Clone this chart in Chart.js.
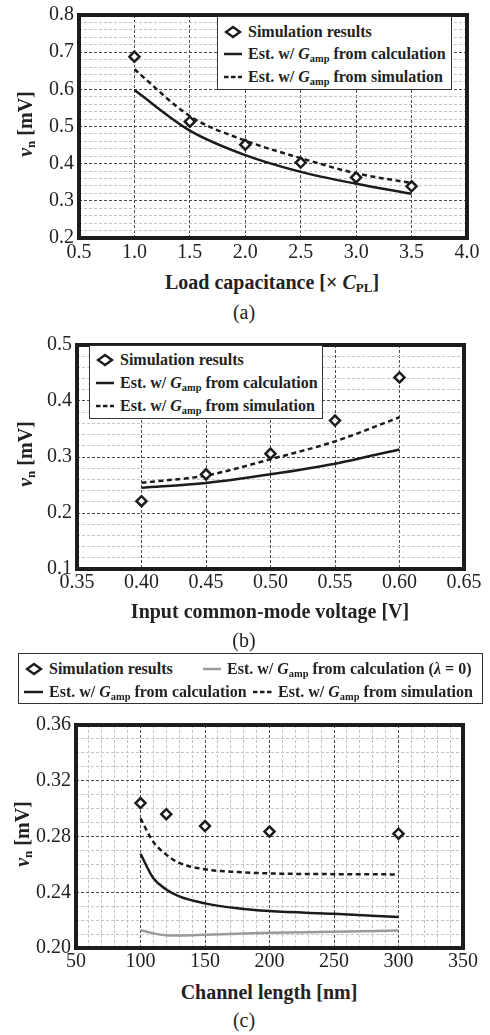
<!DOCTYPE html>
<html lang="en">
<head>
<meta charset="UTF-8">
<title>Output noise voltage</title>
<script src="https://cdn.jsdelivr.net/npm/chart.js"></script>
<style>
  body { margin: 0; width: 490px; height: 1035px; background: #fff; position: relative; overflow: hidden;
         font-family: "Liberation Serif", "Times New Roman", serif; color: #222; }
  canvas { position: absolute; left: 0; }
  .ytitle { position: absolute; font-weight: bold; font-size: 20px; white-space: nowrap;
            transform: translate(-50%, -50%) rotate(-90deg); }
  .xtitle { position: absolute; font-weight: bold; font-size: 20px; white-space: nowrap;
            transform: translate(-50%, -50%); }
  .caption { position: absolute; font-size: 20px; transform: translate(-50%, -50%); }
  .legend { position: absolute; background: #fff; border: 1.5px solid #333; box-sizing: border-box; }
  .item { position: absolute; display: flex; align-items: center; font-weight: bold; font-size: 16px;
          white-space: nowrap; transform: translateY(-50%); }
  .item svg { margin-right: 6px; flex: none; }
  sub { font-size: 0.65em; vertical-align: -0.3em; line-height: 0; }
</style>
</head>
<body>

<canvas id="chartA" width="490" height="270" style="top:0px"></canvas>
<canvas id="chartB" width="490" height="270" style="top:330px"></canvas>
<canvas id="chartC" width="490" height="270" style="top:710px"></canvas>

<!-- axis titles and captions -->
<div class="ytitle" style="left:25px; top:124px"><i>v</i><sub>n</sub> [mV]</div>
<div class="xtitle" style="left:272px; top:282px">Load capacitance [× <i>C</i><sub>PL</sub>]</div>
<div class="caption" style="left:244px; top:312px">(a)</div>

<div class="ytitle" style="left:25px; top:454px"><i>v</i><sub>n</sub> [mV]</div>
<div class="xtitle" style="left:270px; top:611px">Input common-mode voltage [V]</div>
<div class="caption" style="left:244px; top:640px">(b)</div>

<div class="ytitle" style="left:22px; top:834px"><i>v</i><sub>n</sub> [mV]</div>
<div class="xtitle" style="left:269px; top:992px">Channel length [nm]</div>
<div class="caption" style="left:244px; top:1020px">(c)</div>

<!-- legends -->
<div class="legend" style="left:217px; top:16px; width:235px; height:74px">
  <div class="item" style="left:6px; top:15px"><svg width="18" height="14"><polygon points="9,2 16,7 9,12 2,7" fill="#fff" stroke="#1c1c1c" stroke-width="2.5"/></svg><span>Simulation results</span></div>
  <div class="item" style="left:6px; top:37px"><svg width="18" height="14"><line x1="0" y1="7" x2="18" y2="7" stroke="#1c1c1c" stroke-width="2.5"/></svg><span>Est. w/ <i>G</i><sub>amp</sub> from calculation</span></div>
  <div class="item" style="left:6px; top:60px"><svg width="18" height="14"><line x1="0" y1="7" x2="18" y2="7" stroke="#1c1c1c" stroke-width="2.5" stroke-dasharray="4.5 2.5"/></svg><span>Est. w/ <i>G</i><sub>amp</sub> from simulation</span></div>
</div>

<div class="legend" style="left:89px; top:345px; width:234px; height:74px">
  <div class="item" style="left:6px; top:14px"><svg width="18" height="14"><polygon points="9,2 16,7 9,12 2,7" fill="#fff" stroke="#1c1c1c" stroke-width="2.5"/></svg><span>Simulation results</span></div>
  <div class="item" style="left:6px; top:37px"><svg width="18" height="14"><line x1="0" y1="7" x2="18" y2="7" stroke="#1c1c1c" stroke-width="2.5"/></svg><span>Est. w/ <i>G</i><sub>amp</sub> from calculation</span></div>
  <div class="item" style="left:6px; top:60px"><svg width="18" height="14"><line x1="0" y1="7" x2="18" y2="7" stroke="#1c1c1c" stroke-width="2.5" stroke-dasharray="4.5 2.5"/></svg><span>Est. w/ <i>G</i><sub>amp</sub> from simulation</span></div>
</div>

<div class="legend" style="left:18px; top:653px; width:465px; height:51px">
  <div class="item" style="left:6px; top:15px"><svg width="18" height="14"><polygon points="9,2 16,7 9,12 2,7" fill="#fff" stroke="#1c1c1c" stroke-width="2.5"/></svg><span>Simulation results</span></div>
  <div class="item" style="left:184px; top:15px"><svg width="18" height="14"><line x1="0" y1="7" x2="18" y2="7" stroke="#9a9a9a" stroke-width="2.5"/></svg><span>Est. w/ <i>G</i><sub>amp</sub> from calculation (<i>λ</i> = 0)</span></div>
  <div class="item" style="left:5px; top:38px"><svg width="19" height="14"><line x1="0" y1="7" x2="19" y2="7" stroke="#1c1c1c" stroke-width="2.5"/></svg><span>Est. w/ <i>G</i><sub>amp</sub> from calculation</span></div>
  <div class="item" style="left:234px; top:38px"><svg width="19" height="14"><line x1="0" y1="7" x2="19" y2="7" stroke="#1c1c1c" stroke-width="2.5" stroke-dasharray="4.5 2.5"/></svg><span>Est. w/ <i>G</i><sub>amp</sub> from simulation</span></div>
</div>

<script>
// (a) noise vs. load capacitance [x C_PL]
var loadCap    = [1.0, 1.5, 2.0, 2.5, 3.0, 3.5];
var loadSim    = [0.688, 0.513, 0.451, 0.403, 0.363, 0.339];
var loadCalc   = [0.598, 0.489, 0.423, 0.378, 0.346, 0.319];
var loadEstSim = [0.654, 0.528, 0.462, 0.415, 0.374, 0.348];

// (b) noise vs. input common-mode voltage [V]
var vcm       = [0.40, 0.45, 0.50, 0.55, 0.60];
var vcmSim    = [0.221, 0.269, 0.306, 0.365, 0.442];
var vcmCalc   = [0.245, 0.2535, 0.269, 0.288, 0.3135];
var vcmEstSim = [0.254, 0.267, 0.296, 0.328, 0.371];

// (c) noise vs. channel length [nm]
var lenSimX    = [100, 120, 150, 200, 300];
var lenSim     = [0.304, 0.296, 0.2875, 0.2835, 0.282];
var lenX       = [100, 110, 120, 130, 150, 175, 200, 250, 300];
var lenCalc    = [0.2675, 0.250, 0.242, 0.237, 0.232, 0.2285, 0.2265, 0.2245, 0.2222];
var lenEstSim  = [0.293, 0.276, 0.267, 0.261, 0.2565, 0.2545, 0.2535, 0.253, 0.2528];
var lenCalcL0  = [0.2128, 0.2105, 0.2092, 0.209, 0.2095, 0.2103, 0.211, 0.2116, 0.2125];

var INK = '#1c1c1c';

function isMult(v, step) {
    var r = v / step;
    return Math.abs(r - Math.round(r)) < 1e-6;
}

function pts(xs, ys) {
    return xs.map(function (x, i) { return { x: x, y: ys[i] }; });
}

// thick box round the plot area
var frame = {
    id: 'frame',
    afterDraw: function (chart) {
        var ctx = chart.ctx, a = chart.chartArea;
        ctx.save();
        ctx.lineWidth = 4;
        ctx.strokeStyle = INK;
        ctx.strokeRect(a.left, a.top, a.right - a.left, a.bottom - a.top);
        ctx.restore();
    }
};

function axis(min, max, step, major, fmt, fit, pad) {
    return {
        type: 'linear', min: min, max: max,
        afterFit: fit,
        ticks: {
            stepSize: step, autoSkip: false, maxRotation: 0, padding: pad, color: '#222',
            font: { family: 'Liberation Serif', size: 20, lineHeight: 1 },
            callback: function (v) { return isMult(v, major) ? fmt(v) : ''; }
        },
        grid: {
            drawTicks: false, lineWidth: 1,
            color: function (c) { return (c.tick && !isMult(c.tick.value, major)) ? '#c4c4c4' : '#4a4a4a'; }
        },
        border: { display: false, dash: [3, 2] }
    };
}

function simSet(data) {
    return { data: data, showLine: false, pointStyle: 'rectRot', pointRadius: 5,
             pointBorderWidth: 2.5, pointBorderColor: INK, pointBackgroundColor: '#fff' };
}

function curve(data, color, dash) {
    return { data: data, borderColor: color, borderWidth: 2.5, borderDash: dash || [],
             pointRadius: 0, cubicInterpolationMode: 'monotone', fill: false };
}

function makeChart(id, datasets, x, y, right) {
    return new Chart(document.getElementById(id), {
        type: 'line',
        data: { datasets: datasets },
        options: {
            responsive: false, animation: false, events: [],
            layout: { padding: { left: 0, right: 490 - right, top: 10, bottom: 0 } },
            plugins: { legend: { display: false }, tooltip: { enabled: false } },
            scales: { x: x, y: y }
        },
        plugins: [frame]
    });
}

function fix1(v) { return v.toFixed(1); }
function fix2(v) { return v.toFixed(2); }

makeChart('chartA', [
    simSet(pts(loadCap, loadSim)),
    curve(pts(loadCap, loadCalc), INK),
    curve(pts(loadCap, loadEstSim), INK, [5, 3.5])
],
    axis(0.5, 4.0, 0.5, 0.5, fix1, function (s) { s.height = 32; }, 5),
    axis(0.2, 0.8, 0.02, 0.1, fix1, function (s) { s.width = 79; }, 5),
    467);

makeChart('chartB', [
    simSet(pts(vcm, vcmSim)),
    curve(pts(vcm, vcmCalc), INK),
    curve(pts(vcm, vcmEstSim), INK, [5, 3.5])
],
    axis(0.35, 0.65, 0.05, 0.05, fix2, function (s) { s.height = 31; }, 4),
    axis(0.1, 0.5, 0.02, 0.1, fix1, function (s) { s.width = 77; }, 5),
    464);

makeChart('chartC', [
    simSet(pts(lenSimX, lenSim)),
    curve(pts(lenX, lenCalc), INK),
    curve(pts(lenX, lenEstSim), INK, [5, 3.5]),
    curve(pts(lenX, lenCalcL0), '#9a9a9a')
],
    axis(50, 350, 10, 50, function (v) { return String(Math.round(v)); }, function (s) { s.height = 32; }, 4),
    axis(0.2, 0.36, 0.01, 0.04, fix2, function (s) { s.width = 76; }, 5),
    463);
</script>
</body>
</html>
